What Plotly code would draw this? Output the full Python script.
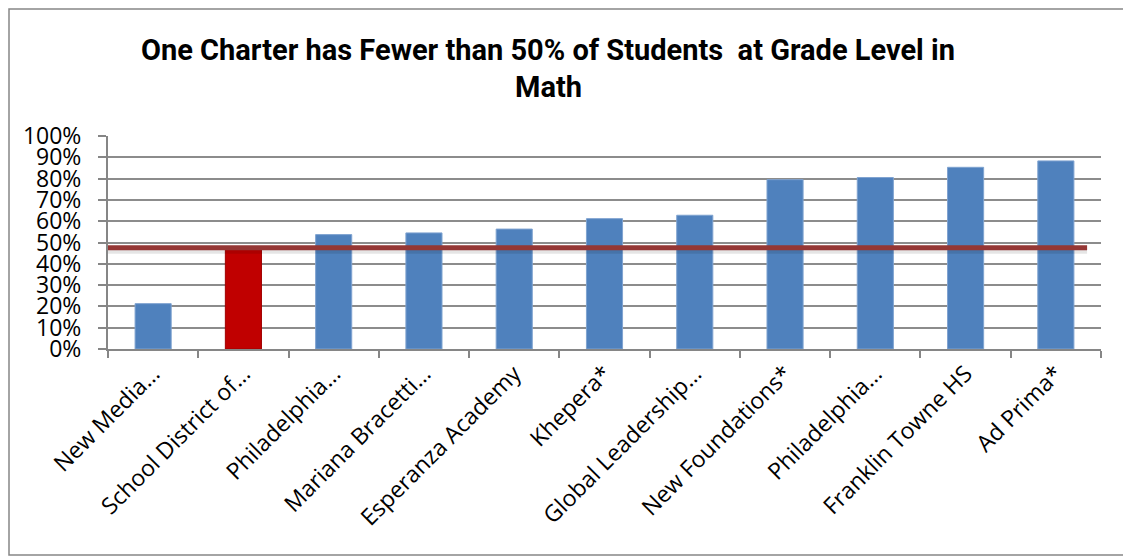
import plotly.graph_objects as go

categories = ["New Media…", "School District of…", "Philadelphia…", "Mariana Bracetti…",
              "Esperanza Academy", "Khepera*", "Global Leadership…", "New Foundations*",
              "Philadelphia…", "Franklin Towne HS", "Ad Prima*"]
values = [0.213, 0.47, 0.537, 0.545, 0.563, 0.612, 0.628, 0.795, 0.805, 0.853, 0.883]
highlight = [False, True, False, False, False, False, False, False, False, False, False]
threshold = 0.475
yticks = [i / 10 for i in range(11)]
ytick_labels = [f"{i * 10}%" for i in range(11)]
title_lines = ["One Charter has Fewer than 50% of Students  at Grade Level in", "Math"]

blue = "#4F81BD"
red = "#C00000"
idx = list(range(len(categories)))

# page body has an 8px margin: figure sized to fit the window
W, H = 1123, 551
PL, PT, PW, PH = 100, 128, 993, 213

fig = go.Figure()
fig.add_trace(go.Bar(
    x=idx, y=values, width=0.4,
    marker=dict(color=[red if h else blue for h in highlight],
                line=dict(color=["#A00000" if h else "#7FA3D0" for h in highlight], width=1)),
    showlegend=False, hoverinfo="x+y",
))

# threshold line (shadow + line)
fig.add_shape(type="line", xref="x domain", yref="y", x0=0, x1=0.986,
              y0=threshold - 0.014, y1=threshold - 0.014,
              line=dict(color="rgba(0,0,0,0.10)", width=6))
fig.add_shape(type="line", xref="x domain", yref="y", x0=0, x1=0.986,
              y0=threshold, y1=threshold,
              line=dict(color="#953735", width=5))

def px_x(p):
    return (p - PL) / PW

def px_y(p):
    return (PT + PH - p) / PH

# outer border
fig.add_shape(type="rect", xref="paper", yref="paper",
              x0=px_x(1), x1=px_x(1119), y0=px_y(547), y1=px_y(1),
              line=dict(color="#868686", width=1.5), layer="below")

title_font = dict(family="Roboto", size=29, color="black")
fig.add_annotation(text="<b>" + title_lines[0] + "</b>", xref="paper", yref="paper",
                   x=px_x(540), y=px_y(42), xanchor="center", yanchor="middle",
                   showarrow=False, font=title_font)
fig.add_annotation(text="<b>" + title_lines[1] + "</b>", xref="paper", yref="paper",
                   x=px_x(540), y=px_y(79), xanchor="center", yanchor="middle",
                   showarrow=False, font=title_font)

fig.update_layout(
    width=W, height=H,
    margin=dict(l=PL, r=W - PL - PW, t=PT, b=H - PT - PH, pad=0),
    paper_bgcolor="white", plot_bgcolor="white",
    bargap=0.6,
    xaxis=dict(
        range=[-0.5, len(categories) - 0.5], automargin=False,
        tickmode="array", tickvals=idx, ticktext=categories,
        tickangle=-45, ticks="", showgrid=False,
        showline=True, linecolor="#868686", linewidth=2,
        tickfont=dict(family="Open Sans", size=23, color="black"),
        minor=dict(ticks="outside", tick0=-0.5, dtick=1, ticklen=7, tickcolor="#868686", tickwidth=2, showgrid=False),
        zeroline=False,
    ),
    yaxis=dict(
        range=[0, 1], automargin=False, tickmode="array", tickvals=yticks, ticktext=ytick_labels,
        showgrid=True, gridcolor="#8C8C8C", gridwidth=2,
        ticks="outside", ticklen=8, tickcolor="#868686", tickwidth=2,
        showline=True, linecolor="#868686", linewidth=2,
        tickfont=dict(family="Open Sans", size=23, color="black"),
        ticklabelstandoff=12,
        zeroline=False,
    ),
)

fig.write_html("out.html")
